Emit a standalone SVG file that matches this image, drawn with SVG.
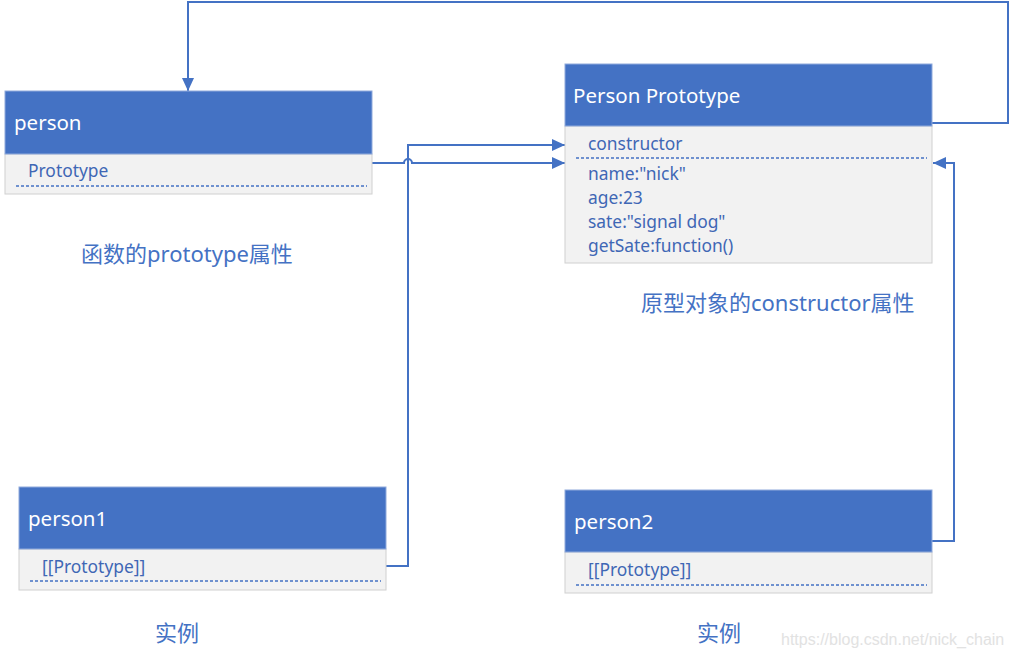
<svg xmlns="http://www.w3.org/2000/svg" width="1011" height="658" viewBox="0 0 1011 658">
<style>
.hdr{fill:#4472C4;stroke:#8FAADC;stroke-width:1}
.body{fill:#F2F2F2;stroke:#D0D0D0;stroke-width:1}
.title{font-family:"Noto Sans","Liberation Sans",sans-serif;font-size:20.5px;fill:#FFFFFF}
.item{font-family:"Noto Sans","Liberation Sans",sans-serif;font-size:17.4px;fill:#3F67B5}
.dash{stroke:#4472C4;stroke-width:1.6;stroke-dasharray:3,2;fill:none}
.lbl{font-family:"Noto Sans","Noto Sans CJK SC",sans-serif;font-size:22px;fill:#4472C4}
.conn{stroke:#4472C4;stroke-width:2;fill:none}
</style>
<defs>
<marker id="arr" markerUnits="userSpaceOnUse" markerWidth="14" markerHeight="12" refX="13" refY="6" orient="auto">
<path d="M0,0 L13,6 L0,12 Z" fill="#4472C4"/>
</marker>
</defs>
<rect width="1011" height="658" fill="#FFFFFF"/>

<g id="connectors">
<path class="conn" d="M932,123 H1008 V2 H188 V91" marker-end="url(#arr)"/>
<path class="conn" d="M386,566 H408 V145 H565" marker-end="url(#arr)"/>
<path class="conn" d="M372,163 H404 A4,4 0 0 1 412,163 H565" marker-end="url(#arr)"/>
<path class="conn" d="M932,541 H954 V163 H933" marker-end="url(#arr)"/>
</g>

<g id="person">
<rect class="body" x="5" y="154" width="367" height="40"/>
<rect class="hdr" x="5" y="91" width="367" height="63"/>
<text class="title" x="14" y="130">person</text>
<text class="item" x="28" y="177">Prototype</text>
<line class="dash" x1="16" y1="186" x2="367" y2="186"/>
</g>

<g id="person-prototype">
<rect class="body" x="565" y="126" width="367" height="137"/>
<rect class="hdr" x="565" y="64" width="367" height="62"/>
<text class="title" x="573" y="103">Person Prototype</text>
<text class="item" x="588" y="150">constructor</text>
<line class="dash" x1="576" y1="158" x2="927" y2="158"/>
<text class="item" x="588" y="180">name:"nick"</text>
<text class="item" x="588" y="204">age:23</text>
<text class="item" x="588" y="228">sate:"signal dog"</text>
<text class="item" x="588" y="252">getSate:function()</text>
</g>

<g id="person1">
<rect class="body" x="19" y="549" width="367" height="41"/>
<rect class="hdr" x="19" y="487" width="367" height="62"/>
<text class="title" x="28" y="526">person1</text>
<text class="item" x="42" y="573">[[Prototype]]</text>
<line class="dash" x1="30" y1="581" x2="381" y2="581"/>
</g>

<g id="person2">
<rect class="body" x="565" y="552" width="367" height="41"/>
<rect class="hdr" x="565" y="490" width="367" height="62"/>
<text class="title" x="574" y="529">person2</text>
<text class="item" x="588" y="576">[[Prototype]]</text>
<line class="dash" x1="576" y1="585" x2="927" y2="585"/>
</g>

<g id="labels">
<text class="lbl" x="81" y="262">函数的prototype属性</text>
<text class="lbl" x="641" y="311">原型对象的constructor属性</text>
<text class="lbl" x="155" y="641" style="font-size:22px">实例</text>
<text class="lbl" x="697" y="641" style="font-size:22px">实例</text>
<text x="781" y="645" style="font-family:'Liberation Sans',sans-serif;font-size:16px;fill:#E2E2E2">https://blog.csdn.net/nick_chain</text>
</g>
</svg>
